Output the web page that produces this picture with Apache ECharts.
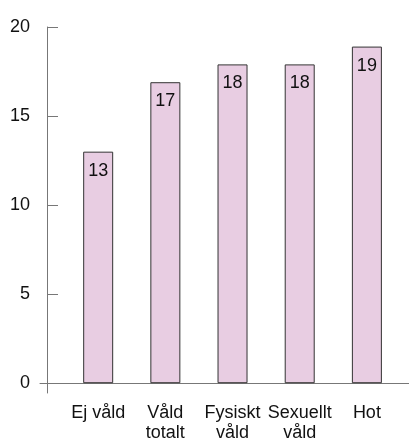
<!DOCTYPE html>
<html>
<head>
<meta charset="utf-8">
<script src="https://cdn.jsdelivr.net/npm/echarts@6/dist/echarts.min.js"></script>
<style>
  html, body { margin: 0; padding: 0; background: #fff; }
  #chart { width: 409px; height: 443px; }
</style>
</head>
<body>
<div id="chart"></div>
<script>
const categories = ['Ej våld', 'Våld\ntotalt', 'Fysiskt\nvåld', 'Sexuellt\nvåld', 'Hot']
const values = [13, 16.9, 17.9, 17.9, 18.9]
const labels = ['13', '17', '18', '18', '19']
const yTicks = [0, 5, 10, 15, 20]

const chart = echarts.init(document.getElementById('chart'))

const font = 'Liberation Sans, Arial, Helvetica, sans-serif'

chart.setOption({
    animation: false,
    grid: { left: 40, right: 0, top: 27, bottom: 43 },
    xAxis: {
        type: 'value',
        min: -0.866,
        max: 4.627,
        splitLine: { show: false },
        axisTick: { show: false },
        axisLine: { onZero: true, lineStyle: { color: '#777', width: 1 } },
        axisLabel: {
            customValues: [0, 1, 2, 3, 4],
            formatter: v => categories[Math.round(v)] || '',
            color: '#111',
            fontSize: 18,
            lineHeight: 20,
            margin: 10,
            fontFamily: font
        }
    },
    yAxis: {
        type: 'value',
        min: -0.55,
        max: 20,
        offset: -7,
        splitLine: { show: false },
        axisLine: { show: true, onZero: false, lineStyle: { color: '#777', width: 1 } },
        axisTick: {
            show: true,
            inside: true,
            length: 11,
            customValues: yTicks,
            lineStyle: { color: '#777' }
        },
        axisLabel: {
            customValues: yTicks,
            color: '#111',
            fontSize: 18,
            margin: 17,
            fontFamily: font
        }
    },
    series: [{
        type: 'bar',
        barWidth: 30,
        data: values.map((v, i) => [i, v]),
        itemStyle: { color: '#e8cde2', borderColor: '#333', borderWidth: 1 },
        label: {
            show: true,
            position: 'insideTop',
            distance: 10,
            formatter: p => labels[p.dataIndex],
            color: '#111',
            fontSize: 18,
            fontFamily: font
        }
    }]
})
</script>
</body>
</html>
